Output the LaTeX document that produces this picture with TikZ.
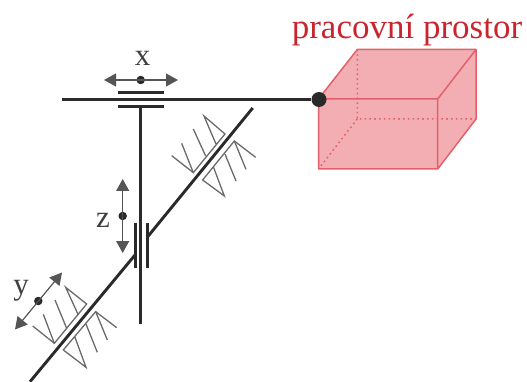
\documentclass[tikz,border=0pt]{standalone}
\usepackage{fontspec}
\setmainfont{Liberation Serif}
\usetikzlibrary{arrows.meta}
\definecolor{ink}{HTML}{2A2A2A}
\definecolor{boxfill}{HTML}{F3AEB4}
\definecolor{boxedge}{HTML}{E2606A}
\definecolor{boxtext}{HTML}{C9252F}
\tikzset{
  rail/.style={draw=ink,line width=2.9pt},
  hatch/.style={draw=ink!70,line width=1.3pt,line join=miter},
  motion/.style={draw=ink!80,line width=1.2pt,{Triangle[length=12pt,width=13pt]}-{Triangle[length=12pt,width=13pt]}},
  dot/.style={circle,fill=ink,inner sep=0pt,minimum size=#1},
  axislabel/.style={font=\fontsize{31}{31}\selectfont,text=ink!90,inner sep=0pt},
  boxface/.style={draw=boxedge,line width=1.5pt,line join=round},
  boxhidden/.style={draw=boxedge,line width=1.5pt,dash pattern=on 1.6pt off 3.2pt}
}
\begin{document}
\begin{tikzpicture}[x=1pt,y=-1pt]
\useasboundingbox (0,0) rectangle (527,382);
% working space
\coordinate (fa) at (318.5,99); \coordinate (fb) at (437.7,99);
\coordinate (fc) at (437.7,169); \coordinate (fd) at (318.5,169);
\coordinate (ba) at (357.3,49.5); \coordinate (bb) at (476,49.5);
\coordinate (bc) at (476,119); \coordinate (bd) at (357.3,119);
\fill[boxfill] (fa)--(ba)--(bb)--(bc)--(fc)--(fd)--cycle;
\draw[boxhidden] (ba)--(bd)--(bc) (bd)--(fd);
\draw[boxface] (fa)--(ba)--(bb)--(bc)--(fc)--(fd)--cycle (fa)--(fb)--(fc) (fb)--(bb);
\node[text=boxtext,font=\fontsize{35}{35}\selectfont,inner sep=0pt] (title) at (407,30) {pracovní prostor};
% x axis
\node[dot=15pt] (ball) at (319,99.5) {};
\coordinate (xstart) at (62,99.5);
\draw[rail] (xstart)--(ball);
\draw[rail] (118,92.7)--(164,92.7);
\draw[rail] (118,106.3)--(164,106.3);
\coordinate (vtop) at (140.7,106); \coordinate (vbot) at (140.7,324);
\draw[rail] (vtop)--(vbot);
\node[dot=8.5pt] (xdot) at (140.7,80) {};
\coordinate (xl) at (104,80); \coordinate (xr) at (178,80);
\draw[motion] (xl)--(xr);
\node[axislabel] (xlabel) at (142.5,58.5) {x};
% z axis
\draw[rail] (135.4,222.7)--(135.4,268);
\draw[rail] (147.7,222.7)--(147.7,268);
\node[dot=8.5pt] (zdot) at (122.7,216) {};
\coordinate (zt) at (122.7,179); \coordinate (zb) at (122.7,253);
\draw[motion] (zt)--(zb);
\node[axislabel] (zlabel) at (103,220) {z};
% y axis
\coordinate (dl1) at (30,381.7); \coordinate (dl2) at (135,255);
\coordinate (du1) at (147.7,236.7); \coordinate (du2) at (252.7,108);
\draw[rail] (dl1)--(dl2);
\draw[rail] (du1)--(du2);
\node[dot=8.5pt] (ydot) at (38.3,301) {};
\coordinate (yb) at (15,329.5); \coordinate (yt) at (62,272.5);
\draw[motion] (yb)--(yt);
\node[axislabel] (ylabel) at (21,291) {y};
% lower guide (zoom coordinates /3)
\begin{scope}[x=0.3333pt,y=-0.3333pt,yshift=-180pt]
\draw[hatch] (98,438)--(163,490)--(260,372)--(197,322)--(235,405);
\draw[hatch] (130,403)--(163,490);
\draw[hatch] (165,360)--(200,445);
\draw[hatch] (350,443)--(287,395)--(190,510)--(258,562)--(225,472);
\draw[hatch] (287,395)--(322,480);
\draw[hatch] (258,432)--(292,517);
\end{scope}
% upper guide
\begin{scope}[x=0.3333pt,y=-0.3333pt,xshift=60pt,yshift=-30pt]
\draw[hatch] (335,377)--(400,428)--(495,312)--(432,258)--(468,342);
\draw[hatch] (365,340)--(400,428);
\draw[hatch] (400,297)--(437,378);
\draw[hatch] (587,382)--(523,333)--(428,450)--(493,498)--(460,410);
\draw[hatch] (523,333)--(558,418);
\draw[hatch] (495,372)--(528,453);
\end{scope}
\end{tikzpicture}
\end{document}
